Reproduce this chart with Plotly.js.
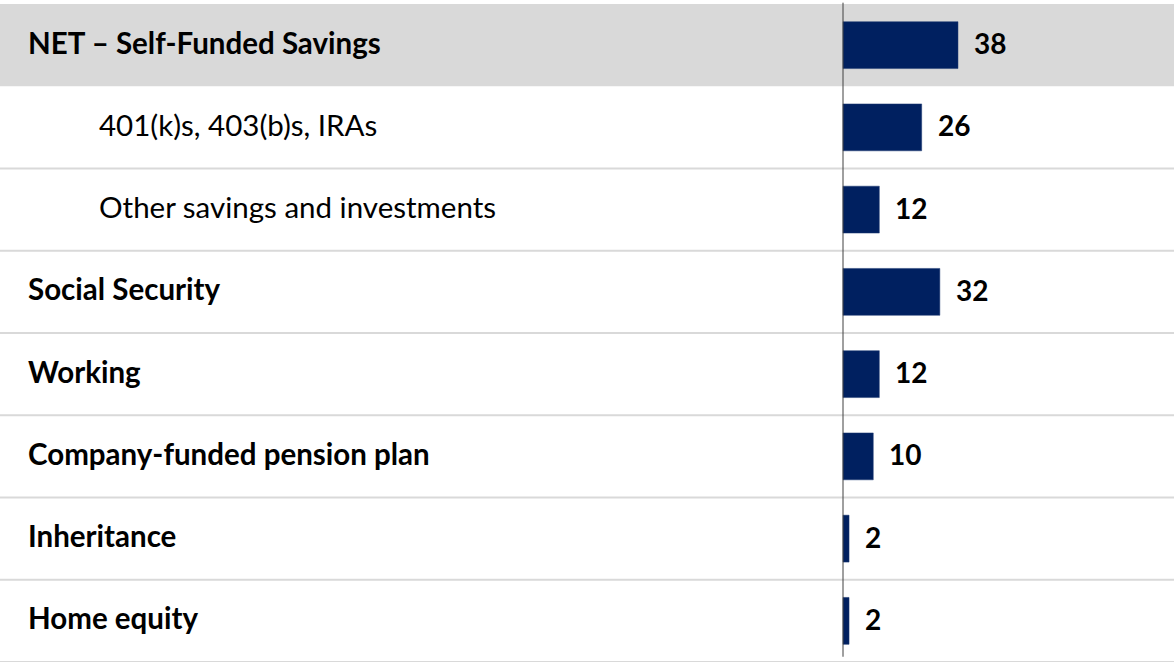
<!DOCTYPE html>
<html>
<head>
<meta charset="utf-8">
<script src="https://cdn.plot.ly/plotly-3.0.1.min.js"></script>
<style>html,body{margin:0;padding:0;background:#fff;}#chart{width:1174px;height:663px;}</style>
</head>
<body>
<div id="chart"></div>
<script>
const categories = [
  "NET – Self-Funded Savings",
  "401(k)s, 403(b)s, IRAs",
  "Other savings and investments",
  "Social Security",
  "Working",
  "Company-funded pension plan",
  "Inheritance",
  "Home equity"
];
const values = [38, 26, 12, 32, 12, 10, 2, 2];
const isSubItem = [false, true, true, false, false, false, false, false];
const isHighlighted = [true, false, false, false, false, false, false, false];

const W = 1174, H = 663;
const zeroPx = 843, pxPerUnit = 3.026;
const FONT = "Lato, 'Open Sans', sans-serif";

const shapes = [];
categories.forEach((c, i) => {
  if (isHighlighted[i]) {
    shapes.push({type: 'rect', xref: 'paper', yref: 'y', x0: 0, x1: 1, y0: i - 0.5, y1: i + 0.5,
      fillcolor: '#D9D9D9', line: {width: 0}, layer: 'below'});
  } else {
    shapes.push({type: 'line', xref: 'paper', yref: 'y', x0: 0, x1: 1, y0: i + 0.5, y1: i + 0.5,
      line: {color: '#D9D9D9', width: 2}, layer: 'below'});
  }
});
shapes.push({type: 'line', xref: 'x', yref: 'paper', x0: 0, x1: 0, y0: 0.008, y1: 1.002,
  line: {color: '#404040', width: 1}, layer: 'above'});

const annotations = [];
categories.forEach((c, i) => {
  annotations.push({
    xref: 'paper', yref: 'y', x: (isSubItem[i] ? 97 : 26) / W, y: c, yshift: 3,
    xanchor: 'left', yanchor: 'middle', showarrow: false, text: c,
    font: {family: FONT, size: 29.5, color: '#000', weight: isSubItem[i] ? 400 : 700}
  });
  annotations.push({
    xref: 'x', yref: 'y', x: values[i], y: c, xshift: 14, yshift: 2,
    xanchor: 'left', yanchor: 'middle', showarrow: false, text: String(values[i]),
    font: {family: FONT, size: 28, color: '#000', weight: 700}
  });
});

const trace = {
  type: 'bar', orientation: 'h', x: values, y: categories,
  marker: {color: '#002060', line: {color: '#1F3A73', width: 0.5}},
  hoverinfo: 'skip'
};

const layout = {
  width: W, height: H,
  margin: {l: 0, r: 0, t: 4, b: 1, pad: 0},
  paper_bgcolor: '#fff', plot_bgcolor: 'rgba(0,0,0,0)',
  bargap: 0.43,
  showlegend: false,
  xaxis: {range: [-zeroPx / pxPerUnit, (W - zeroPx) / pxPerUnit], showgrid: false, zeroline: false,
    showticklabels: false, ticks: '', fixedrange: true},
  yaxis: {type: 'category', categoryorder: 'array', categoryarray: categories,
    range: [categories.length - 0.5, -0.5], showgrid: false, zeroline: false,
    showticklabels: false, ticks: '', fixedrange: true},
  shapes: shapes,
  annotations: annotations
};

Plotly.newPlot('chart', [trace], layout, {displayModeBar: false, staticPlot: true});
</script>
</body>
</html>
